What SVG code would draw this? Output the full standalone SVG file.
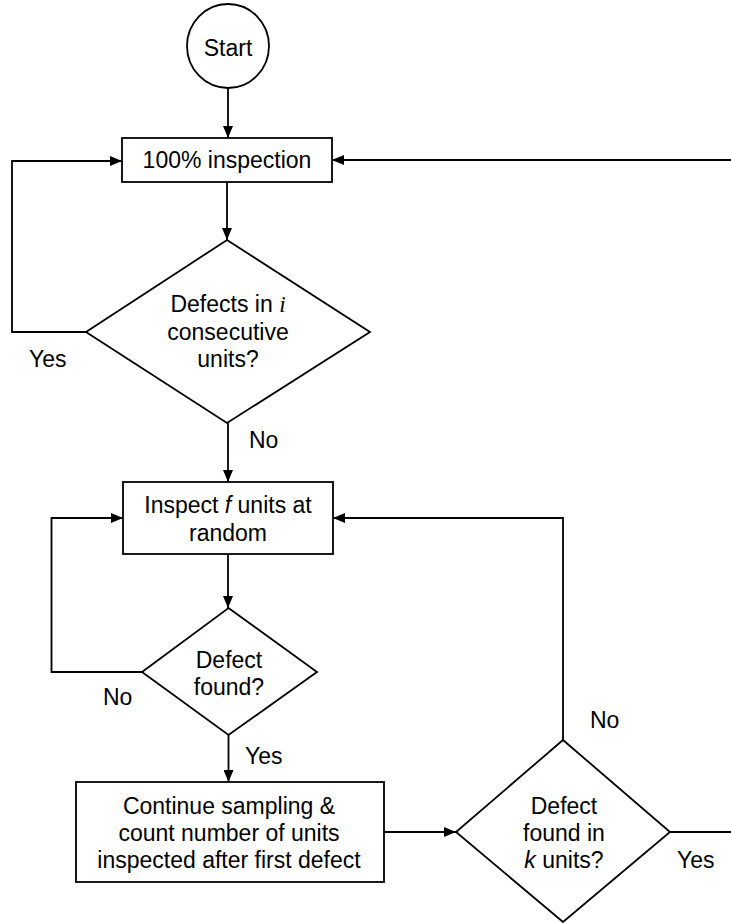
<svg xmlns="http://www.w3.org/2000/svg" width="731" height="923" viewBox="0 0 731 923">
  <style>
    .shape { fill: #ffffff; stroke: #000000; stroke-width: 1.8; }
    .conn { fill: none; stroke: #000000; stroke-width: 1.8; marker-end: url(#arrow); }
    .conn-plain { fill: none; stroke: #000000; stroke-width: 1.8; }
    .label { font-family: "Liberation Sans", Arial, sans-serif; font-size: 23px; fill: #000000; }
    .mid { text-anchor: middle; }
    .var-serif { font-family: "Liberation Serif", "Times New Roman", serif; font-style: italic; }
    .var-sans { font-style: italic; }
  </style>
  <defs>
    <marker id="arrow" markerUnits="userSpaceOnUse" markerWidth="12" markerHeight="10" refX="12" refY="5" orient="auto">
      <path d="M0,0 L12,5 L0,10 Z" fill="#000000"/>
    </marker>
  </defs>

  <rect width="731" height="923" fill="#ffffff"/>

  <!-- connectors -->
  <g id="connectors">
    <line class="conn" x1="228" y1="88" x2="228" y2="138"/>
    <line class="conn" x1="227" y1="182" x2="227" y2="240"/>
    <polyline class="conn" points="86,332 12,332 12,161 122,161"/>
    <line class="conn" x1="731" y1="160" x2="332" y2="160"/>
    <line class="conn" x1="228" y1="423" x2="228" y2="482"/>
    <line class="conn" x1="228" y1="554" x2="228" y2="608"/>
    <polyline class="conn" points="142,672 51.5,672 51.5,518 123,518"/>
    <line class="conn" x1="228.5" y1="735" x2="228.5" y2="782"/>
    <line class="conn" x1="384" y1="832" x2="456" y2="832"/>
    <polyline class="conn" points="563,740 563,518 333,518"/>
    <line class="conn-plain" x1="670" y1="832" x2="731" y2="832"/>

    <text class="label" x="29" y="367">Yes</text>
    <text class="label" x="249" y="448">No</text>
    <text class="label" x="103" y="705">No</text>
    <text class="label" x="245" y="764">Yes</text>
    <text class="label" x="590" y="728">No</text>
    <text class="label" x="677" y="868">Yes</text>
  </g>

  <!-- start terminal -->
  <g id="start">
    <ellipse class="shape" cx="228" cy="46" rx="41" ry="42"/>
    <text class="label mid" x="228" y="56">Start</text>
  </g>

  <!-- full inspection -->
  <g id="full-inspection">
    <rect class="shape" x="122" y="138" width="210" height="44"/>
    <text class="label mid" x="227" y="168">100% inspection</text>
  </g>

  <!-- decision: consecutive defect-free run -->
  <g id="consecutive-check">
    <polygon class="shape" points="227,240 370,332 227,423 86,332"/>
    <text class="label mid" x="228" y="312">Defects in <tspan class="var-serif">i</tspan></text>
    <text class="label mid" x="228" y="340">consecutive</text>
    <text class="label mid" x="228" y="367">units?</text>
  </g>

  <!-- sampling inspection -->
  <g id="sampling">
    <rect class="shape" x="123" y="482" width="210" height="72"/>
    <text class="label mid" x="228" y="513">Inspect <tspan class="var-sans">f</tspan> units at</text>
    <text class="label mid" x="228" y="541">random</text>
  </g>

  <!-- decision: defect in sample -->
  <g id="defect-check">
    <polygon class="shape" points="228.5,608 317,672 228.5,735 142,672"/>
    <text class="label mid" x="229" y="668">Defect</text>
    <text class="label mid" x="229" y="695">found?</text>
  </g>

  <!-- continued sampling -->
  <g id="continue-sampling">
    <rect class="shape" x="76" y="782" width="308" height="100"/>
    <text class="label mid" x="229" y="814">Continue sampling &amp;</text>
    <text class="label mid" x="229" y="841">count number of units</text>
    <text class="label mid" x="229" y="868">inspected after first defect</text>
  </g>

  <!-- decision: defect within k units -->
  <g id="k-check">
    <polygon class="shape" points="563,740 670,832 563,922 456,832"/>
    <text class="label mid" x="564" y="814">Defect</text>
    <text class="label mid" x="564" y="841">found in</text>
    <text class="label mid" x="564" y="868"><tspan class="var-sans">k</tspan> units?</text>
  </g>
</svg>
